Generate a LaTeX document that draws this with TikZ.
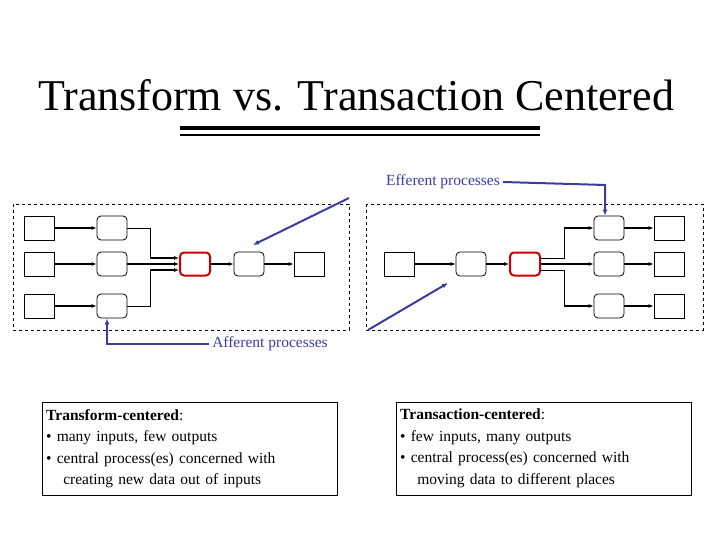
\documentclass[tikz,border=0pt]{standalone}
\usepackage{fontspec}
\setmainfont{Liberation Serif}
\usetikzlibrary{arrows.meta}
\definecolor{blu}{RGB}{60,60,160}
\begin{document}
\begin{tikzpicture}[x=1pt,y=-1pt,
 sq/.style={draw,line width=0.8pt,minimum width=30pt,minimum height=24pt,inner sep=0pt},
 rd/.style={sq,rounded corners=4pt},
 red/.style={draw=red!80!black,line width=2pt,rounded corners=4pt,minimum width=30pt,minimum height=23pt,inner sep=0pt},
 ar/.style={-{Latex[length=5pt,width=4pt]},line width=1.2pt},
 ln/.style={line width=0.6pt},
 bl/.style={blu,line width=2pt},
 lab/.style={text=blu,font=\fontsize{15.5}{18}\selectfont,inner sep=3pt},
 txt/.style={draw,align=left,font=\fontsize{15.5}{21.5}\selectfont,inner xsep=4pt,inner ysep=7pt,text width=287pt,anchor=north west}]
\useasboundingbox (0,0) rectangle (720,540);
\node[font=\fontsize{44}{50}\selectfont] (title) at (356,95) {Transform vs. Transaction Centered};
\draw[line width=4pt] (180,128) -- (540,128);
\draw[line width=1.5pt] (180,135) -- (540,135);
% left panel
\draw[dashed] (13,204) rectangle (349,330);
\foreach \i/\y in {1/228,2/264,3/306}{
 \node[sq] (la\i) at (39,\y) {};
 \node[rd] (lb\i) at (112,\y) {};
 \draw[ar] (la\i) -- (lb\i);
}
\node[red] (lc) at (195,264) {};
\node[rd] (ld) at (249,264) {};
\node[sq] (le) at (309,264) {};
\draw[ln] (lb1.east) -| (150,258) coordinate (j1);
\draw[ar] (j1) -- (lc.west|-j1);
\draw[ar] (lb2) -- (lc);
\draw[ln] (lb3.east) -| (150,270) coordinate (j3);
\draw[ar] (j3) -- (lc.west|-j3);
\draw[ar] (lc) -- (ld);
\draw[ar] (ld) -- (le);
% right panel
\draw[dashed] (366,204) rectangle (703,330);
\node[sq] (ra) at (399,264) {};
\node[rd] (rb) at (471,264) {};
\node[red] (rc) at (525,264) {};
\draw[ar] (ra) -- (rb);
\draw[ar] (rb) -- (rc);
\foreach \i/\y in {1/228,2/264,3/306}{
 \node[rd] (rd\i) at (609,\y) {};
 \node[sq] (re\i) at (669,\y) {};
 \draw[ar] (rd\i) -- (re\i);
}
\draw[ln] (rc.east|-0,258) -| (564,228) coordinate (k1);
\draw[ar] (k1) -- (rd1);
\draw[ar] (rc) -- (rd2);
\draw[ln] (rc.east|-0,270) -| (564,306) coordinate (k3);
\draw[ar] (k3) -- (rd3);
% labels
\node[lab] (eff) at (443,182) {Efferent processes};
\node[lab] (aff) at (270,344) {Afferent processes};
\coordinate (e1) at (349,198);
\coordinate (e2) at (253,245);
\draw[bl,-{Latex[length=6pt,width=5pt]}] (e1) -- (e2);
\draw[bl,-{Latex[length=6pt,width=5pt]}] (eff.east) -- (605,185) -- (rd1.north-|605,0);
\coordinate (a1) at (368,330);
\coordinate (a2) at (448,283);
\draw[bl,-{Latex[length=6pt,width=5pt]}] (a1) -- (a2);
\draw[bl,-{Latex[length=6pt,width=5pt]}] (aff.west) -- (107,344) -- (lb3.south-|107,0);
% text boxes
\node[txt] (tl) at (42,402) {\textbf{Transform-centered}:\\
• many inputs, few outputs\\
• central process(es) concerned with\\
\hspace*{1.1em}creating new data out of inputs};
\node[txt] (tr) at (396,402) {\textbf{Transaction-centered}:\\
• few inputs, many outputs\\
• central process(es) concerned with\\
\hspace*{1.1em}moving data to different places};
\end{tikzpicture}
\end{document}
